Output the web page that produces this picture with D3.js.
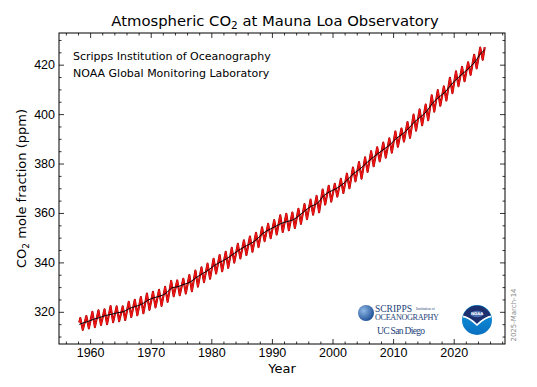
<!DOCTYPE html>
<html>
<head>
<meta charset="utf-8">
<script src="https://cdn.jsdelivr.net/npm/d3@7"></script>
<style>
  body { margin: 0; background: #fff; }
  svg { font-family: "DejaVu Sans", sans-serif; }
  .axis text { font-size: 12.5px; fill: #000; }
  .axis line { stroke: #000; stroke-width: 0.8; }
</style>
</head>
<body>
<div id="chart"></div>
<script>
// seasonal years shown in the record (March 1958 to February 2025)
const years = d3.range(1958, 2025);

// May maxima of the monthly record (ppm)
const mayPeak = [
  317.5, 318.3, 320.0, 320.6, 321.0, 322.3, 322.2, 322.2, 324.1, 324.9,
  326.0, 327.4, 328.1, 328.9, 330.1, 332.5, 332.7, 333.4, 334.9, 336.7,
  338.0, 339.5, 341.5, 343.0, 344.3, 345.9, 347.5, 348.9, 350.5, 352.0,
  354.2, 355.6, 357.1, 359.1, 359.7, 360.2, 361.7, 363.6, 365.4, 366.9,
  369.5, 371.0, 371.8, 373.8, 375.9, 378.4, 380.6, 382.5, 385.0, 386.6,
  388.5, 390.2, 393.0, 394.2, 396.8, 399.8, 401.9, 403.9, 407.6, 409.7,
  411.2, 414.7, 417.3, 419.1, 421.0, 424.0, 426.9
];

// autumn minima of the monthly record (ppm)
const autumnLow = [
  312.7, 313.3, 313.8, 314.7, 315.0, 315.8, 316.2, 316.7, 317.9, 318.6,
  319.4, 320.8, 321.8, 322.4, 324.0, 326.3, 326.7, 327.4, 328.3, 330.2,
  332.0, 333.4, 335.5, 336.4, 337.8, 339.9, 341.6, 343.0, 344.3, 346.2,
  348.6, 349.8, 351.3, 352.3, 353.0, 353.9, 355.6, 357.5, 359.3, 360.3,
  363.4, 364.6, 366.6, 368.1, 370.0, 372.8, 373.9, 376.6, 378.9, 380.9,
  382.4, 384.4, 386.8, 388.9, 390.4, 393.3, 395.5, 397.5, 401.0, 403.4,
  405.5, 408.5, 411.3, 413.3, 415.9, 418.5, 422.0
];

// seasonally adjusted (annual mean) values (ppm)
const annualMean = [
  315.2, 315.98, 316.91, 317.64, 318.45, 318.99, 319.62, 320.04, 321.37, 322.18,
  323.05, 324.62, 325.68, 326.32, 327.46, 329.68, 330.19, 331.12, 332.03, 333.84,
  335.41, 336.84, 338.76, 340.12, 341.48, 343.15, 344.87, 346.35, 347.61, 349.31,
  351.69, 353.20, 354.45, 355.70, 356.54, 357.21, 358.96, 360.97, 362.74, 363.88,
  366.84, 368.54, 369.71, 371.32, 373.45, 375.98, 377.70, 379.98, 382.09, 384.02,
  385.83, 387.64, 390.10, 391.85, 394.06, 396.74, 398.81, 401.01, 404.41, 406.76,
  408.72, 411.65, 414.21, 416.41, 418.53, 421.08, 424.61
];

// first and last monthly observations [decimal year, ppm]
const firstObs = [1958.21, 315.7];
const lastObs = [2025.12, 427.1];
const trendStart = [1958.21, 314.9];
const trendEnd = [2025.12, 426.0];

const xTicks = [1960, 1970, 1980, 1990, 2000, 2010, 2020];
const yTicks = [320, 340, 360, 380, 400, 420];

// build the two series
const monthly = [firstObs];
years.forEach(function(yr, i) {
  monthly.push([yr + 0.375, mayPeak[i]]);
  monthly.push([yr + 0.79, autumnLow[i]]);
});
monthly.push(lastObs);

const trend = [trendStart];
years.forEach(function(yr, i) {
  trend.push([yr + 0.5, annualMean[i]]);
});
trend.push(trendEnd);

const W = 537, H = 387;
const margin = {top: 33, right: 32, bottom: 43, left: 59};
const w = W - margin.left - margin.right;
const h = H - margin.top - margin.bottom;
const plotL = margin.left, plotT = margin.top;

const svg = d3.select("#chart").append("svg")
  .attr("width", W)
  .attr("height", H);

const g = svg.append("g")
  .attr("transform", `translate(${plotL},${plotT})`);

// 5% padding around data, like matplotlib
const xExt = d3.extent(monthly, d => d[0]);
const yExt = d3.extent(monthly, d => d[1]);
const xPad = (xExt[1] - xExt[0]) * 0.05;
const yPad = (yExt[1] - yExt[0]) * 0.05;

const x = d3.scaleLinear()
  .domain([xExt[0] - xPad, xExt[1] + xPad])
  .range([0, w]);

const y = d3.scaleLinear()
  .domain([yExt[0] - yPad, yExt[1] + yPad])
  .range([h, 0]);

const xMinor = d3.range(1956, 2029, 2).filter(v => xTicks.indexOf(v) < 0);
const yMinor = d3.range(310, 433, 5).filter(v => yTicks.indexOf(v) < 0);

// AXES (ticks pointing in, on all four sides)
function addAxis(axis, tx, ty, vals, size, pad) {
  const a = svg.append("g")
    .attr("class", "axis")
    .attr("transform", `translate(${tx},${ty})`)
    .call(axis.tickValues(vals).tickSize(-size).tickPadding(pad || 0)
      .tickFormat(pad ? d3.format("d") : ""));
  a.select(".domain").remove();
  return a;
}
addAxis(d3.axisBottom(x), plotL, plotT + h, xTicks, 5, 4);
addAxis(d3.axisBottom(x), plotL, plotT + h, xMinor, 2.5);
addAxis(d3.axisTop(x), plotL, plotT, xTicks, 5);
addAxis(d3.axisTop(x), plotL, plotT, xMinor, 2.5);
addAxis(d3.axisLeft(y), plotL, plotT, yTicks, 5, 4);
addAxis(d3.axisLeft(y), plotL, plotT, yMinor, 2.5);
addAxis(d3.axisRight(y), plotL + w, plotT, yTicks, 5);
addAxis(d3.axisRight(y), plotL + w, plotT, yMinor, 2.5);

// DATA LINES
const line = d3.line()
  .x(d => x(d[0]))
  .y(d => y(d[1]));

g.append("path")
  .datum(monthly)
  .attr("fill", "none")
  .attr("stroke", "#a00000")
  .attr("stroke-width", 2.1)
  .attr("stroke-linejoin", "round")
  .attr("d", line);

g.append("path")
  .datum(monthly)
  .attr("fill", "none")
  .attr("stroke", "#f01414")
  .attr("stroke-width", 1.3)
  .attr("stroke-linejoin", "round")
  .attr("d", line);

g.append("path")
  .datum(trend)
  .attr("fill", "none")
  .attr("stroke", "#000")
  .attr("stroke-width", 1)
  .attr("d", line.curve(d3.curveMonotoneX));

// FRAME
g.append("rect")
  .attr("width", w)
  .attr("height", h)
  .attr("fill", "none")
  .attr("stroke", "#000")
  .attr("stroke-width", 1);

// TITLE
const title = svg.append("text")
  .attr("x", 275)
  .attr("y", 26)
  .attr("text-anchor", "middle")
  .style("font-size", "14.8px");
title.append("tspan").text("Atmospheric CO");
title.append("tspan").attr("dy", 3).style("font-size", "10.5px").text("2");
title.append("tspan").attr("dy", -3).text(" at Mauna Loa Observatory");

// AXIS LABELS
svg.append("text")
  .attr("x", plotL + w / 2)
  .attr("y", 373)
  .attr("text-anchor", "middle")
  .style("font-size", "13px")
  .text("Year");

const ylab = svg.append("text")
  .attr("transform", `translate(26,${plotT + h / 2}) rotate(-90)`)
  .attr("text-anchor", "middle")
  .style("font-size", "13px");
ylab.append("tspan").text("CO");
ylab.append("tspan").attr("dy", 3).style("font-size", "9px").text("2");
ylab.append("tspan").attr("dy", -3).text(" mole fraction (ppm)");

// SOURCE TEXT
svg.append("text")
  .attr("x", 73).attr("y", 60)
  .style("font-size", "11px")
  .text("Scripps Institution of Oceanography");
svg.append("text")
  .attr("x", 73).attr("y", 77)
  .style("font-size", "11px")
  .text("NOAA Global Monitoring Laboratory");

// DATE STAMP
svg.append("text")
  .attr("transform", "translate(516,315) rotate(-90)")
  .attr("text-anchor", "middle")
  .style("font-size", "7px")
  .style("fill", "#888")
  .text("2025-March-14");

// SCRIPPS LOGO
const defs = svg.append("defs");
const globeGrad = defs.append("radialGradient").attr("id", "globe")
  .attr("cx", "35%").attr("cy", "35%").attr("r", "70%");
globeGrad.append("stop").attr("offset", "0%").attr("stop-color", "#8fb8e6");
globeGrad.append("stop").attr("offset", "100%").attr("stop-color", "#1d4f96");

svg.append("circle")
  .attr("cx", 366).attr("cy", 313).attr("r", 8)
  .attr("fill", "url(#globe)");

const serif = "'Liberation Serif', 'DejaVu Serif', serif";
svg.append("text")
  .attr("x", 375).attr("y", 312)
  .style("font-family", serif).style("font-size", "9.5px").style("fill", "#1d3f7a")
  .text("SCRIPPS");
svg.append("text")
  .attr("x", 416).attr("y", 310)
  .style("font-family", serif).style("font-size", "3.6px").style("fill", "#1d3f7a")
  .text("Institution of");
svg.append("text")
  .attr("x", 375).attr("y", 320)
  .style("font-family", serif).style("font-size", "8.2px").style("fill", "#1d3f7a")
  .attr("textLength", 64)
  .text("OCEANOGRAPHY");
svg.append("text")
  .attr("x", 377).attr("y", 334)
  .style("font-family", serif).style("font-size", "9.5px").style("fill", "#1d3f7a")
  .attr("textLength", 48)
  .text("UC San Diego");

// NOAA LOGO
const nx = 477, ny = 320, nr = 15;
const seaGrad = defs.append("linearGradient").attr("id", "sea")
  .attr("x1", 0).attr("y1", 0).attr("x2", 0).attr("y2", 1);
seaGrad.append("stop").attr("offset", "0%").attr("stop-color", "#0f9ae0");
seaGrad.append("stop").attr("offset", "100%").attr("stop-color", "#0a6fc0");
svg.append("circle")
  .attr("cx", nx).attr("cy", ny).attr("r", nr)
  .attr("fill", "url(#sea)");
defs.append("clipPath").attr("id", "noaaClip")
  .append("circle").attr("cx", nx).attr("cy", ny).attr("r", nr - 0.5);
svg.append("path")
  .attr("clip-path", "url(#noaaClip)")
  .attr("fill", "#1c2f6e")
  .attr("d", `M${nx - 20},${ny - 20} L${nx + 20},${ny - 20} L${nx + 20},${ny - 5}
    Q${nx + 8},${ny - 4} ${nx},${ny + 4} Q${nx - 8},${ny - 4} ${nx - 20},${ny - 5} Z`);
svg.append("path")
  .attr("clip-path", "url(#noaaClip)")
  .attr("fill", "none")
  .attr("stroke", "#fff")
  .attr("stroke-width", 1.6)
  .attr("d", `M${nx - 16},${ny - 4} Q${nx - 8},${ny - 3} ${nx},${ny + 5}
    Q${nx + 8},${ny - 3} ${nx + 16},${ny - 4}`);
svg.append("ellipse")
  .attr("cx", nx).attr("cy", ny - 6).attr("rx", 6.5).attr("ry", 3.2)
  .attr("fill", "#4f6fb0");
svg.append("text")
  .attr("x", nx).attr("y", ny - 4.6)
  .attr("text-anchor", "middle")
  .style("font-size", "3.8px").style("fill", "#fff").style("font-weight", "bold")
  .text("NOAA");
</script>
</body>
</html>
